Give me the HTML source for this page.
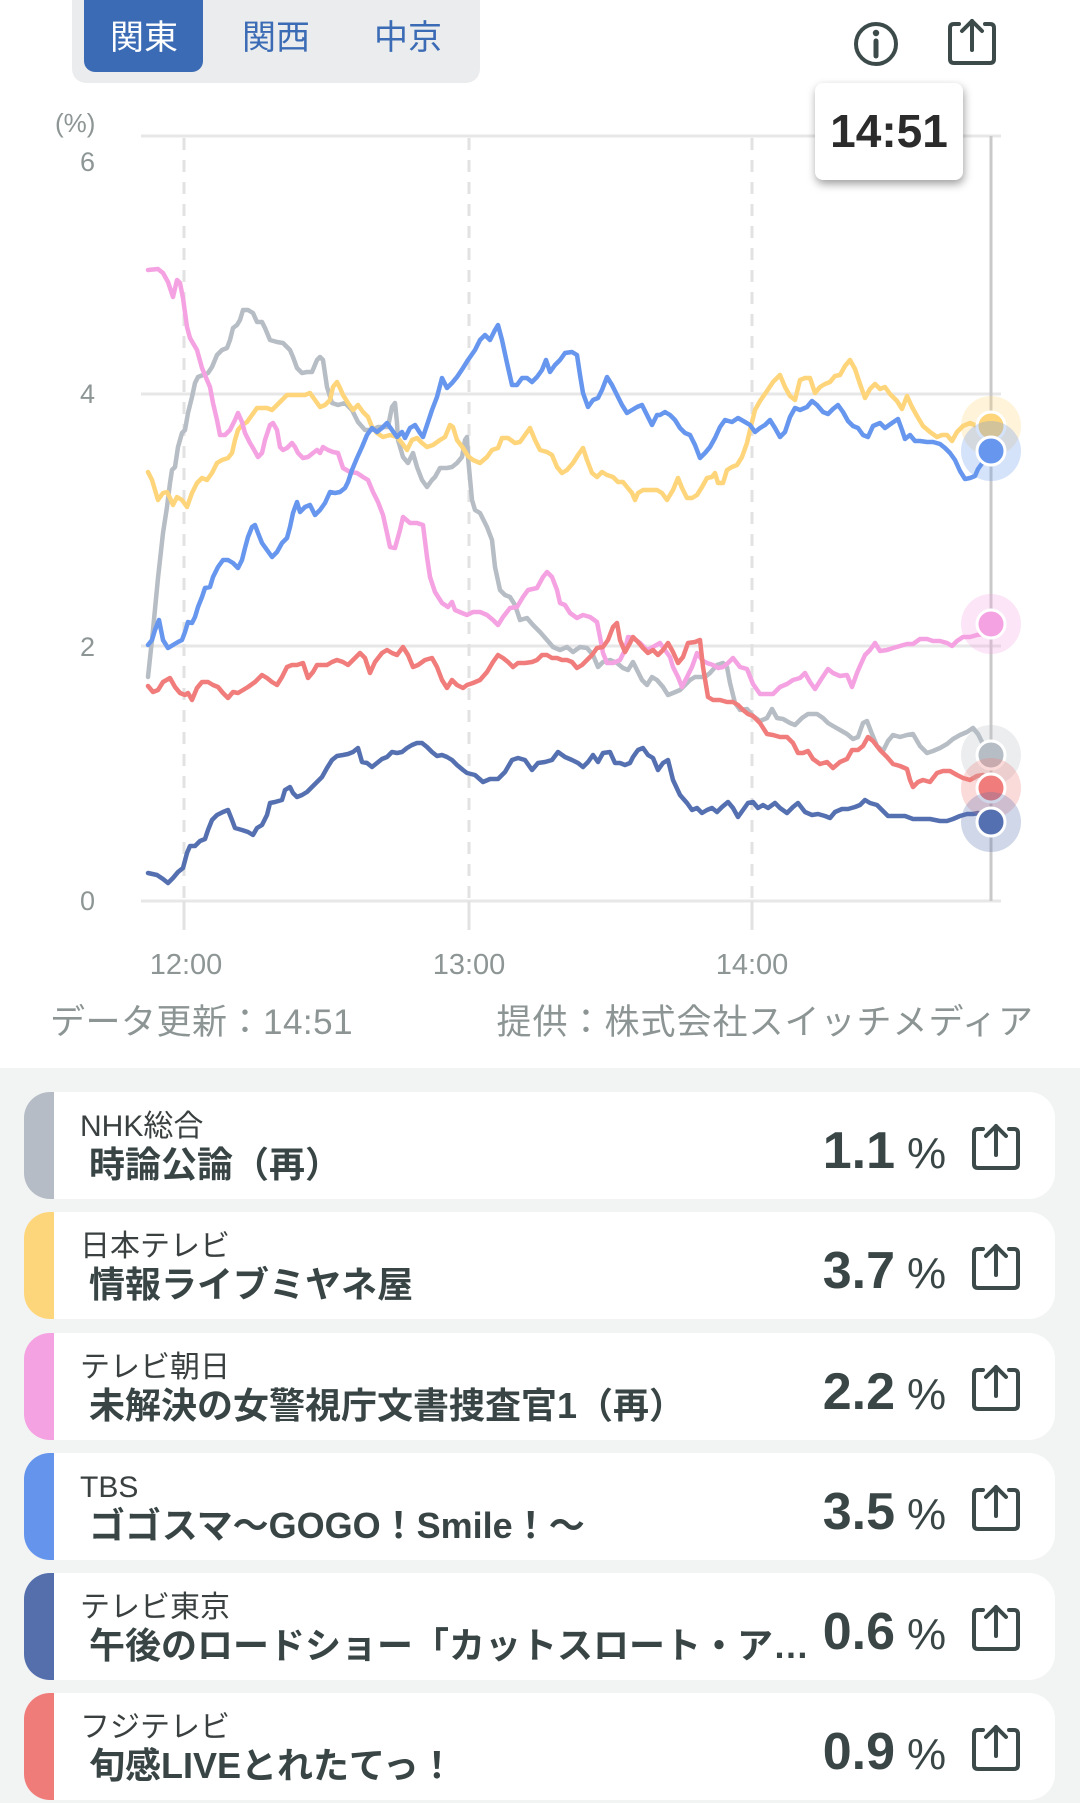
<!DOCTYPE html>
<html lang="ja">
<head>
<meta charset="utf-8">
<style>
html,body{margin:0;padding:0;background:#fff;}
body{width:1080px;height:1803px;position:relative;overflow:hidden;font-family:"Liberation Sans","Noto Sans CJK JP",sans-serif;}
.abs{position:absolute;white-space:nowrap;}
.seg{position:absolute;left:72px;top:-20px;width:408px;height:103px;background:#eaeced;border-radius:14px;}
.segon{position:absolute;left:84px;top:-20px;width:119px;height:92px;background:#3b6bb5;border-radius:11px;}
.segt{position:absolute;top:21px;font-size:34px;line-height:34px;width:120px;text-align:center;color:#3b6bb5;}
.ylab{position:absolute;right:985px;font-size:27px;line-height:27px;color:#8d9595;text-align:right;}
.xlab{position:absolute;font-size:29px;line-height:29px;color:#8d9595;width:120px;text-align:center;top:951px;}
.foot{position:absolute;top:1005px;font-size:35px;line-height:35px;color:#8c9494;white-space:nowrap;}
.list{position:absolute;left:0;top:1068px;width:1080px;height:735px;background:#f2f3f3;}
.card{position:absolute;left:24px;width:1031px;height:107px;background:#fff;border-radius:26px;overflow:hidden;}
.bar{position:absolute;left:0;top:0;width:30px;height:107px;}
.ch{position:absolute;left:56px;top:20px;font-size:30px;line-height:30px;color:#3a3f3f;white-space:nowrap;}
.ti{position:absolute;left:65px;top:55px;font-size:36px;line-height:36px;font-weight:bold;color:#394545;white-space:nowrap;}
.val{position:absolute;right:160px;top:33px;font-size:52px;line-height:52px;font-weight:bold;color:#3a4646;}
.pc{position:absolute;left:883px;top:40px;font-size:44px;line-height:44px;color:#3a4646;}
.ic{position:absolute;left:948px;top:31px;}
</style>
</head>
<body>

<!-- segmented control -->
<div class="seg"></div>
<div class="segon"></div>
<div class="segt" style="left:84px;color:#fff;">関東</div>
<div class="segt" style="left:216px;">関西</div>
<div class="segt" style="left:348px;">中京</div>

<svg width="1080" height="1068" style="position:absolute;left:0;top:0;" xmlns="http://www.w3.org/2000/svg">
  <defs>
    <g id="share" fill="none" stroke="#3c4a4a" stroke-width="4" stroke-linecap="round" stroke-linejoin="round">
      <path d="M11 6 H6 Q2 6 2 10 V41 Q2 45 6 45 H42 Q46 45 46 41 V10 Q46 6 42 6 H37"/>
      <path d="M24 3 V32"/>
      <path d="M14 13 L24 3 L34 13"/>
    </g>
  </defs>

  <!-- top icons -->
  <circle cx="876" cy="44" r="20" fill="none" stroke="#3c4a4a" stroke-width="4"/>
  <circle cx="876" cy="33" r="3.2" fill="#3c4a4a"/>
  <line x1="876" y1="41" x2="876" y2="56" stroke="#3c4a4a" stroke-width="5" stroke-linecap="round"/>
  <use href="#share" x="948" y="18"/>

  <!-- grid -->
  <g stroke="#e7e7e7" stroke-width="3">
    <line x1="141" y1="136" x2="1001" y2="136"/>
    <line x1="141" y1="394" x2="1001" y2="394"/>
    <line x1="141" y1="646" x2="1001" y2="646"/>
    <line x1="141" y1="901" x2="1001" y2="901"/>
  </g>
  <g stroke="#e2e2e2" stroke-width="3" stroke-dasharray="12 10">
    <line x1="184" y1="138" x2="184" y2="900"/>
    <line x1="469" y1="138" x2="469" y2="900"/>
    <line x1="752" y1="138" x2="752" y2="900"/>
  </g>
  <g stroke="#e2e2e2" stroke-width="3">
    <line x1="184" y1="901" x2="184" y2="930"/>
    <line x1="469" y1="901" x2="469" y2="930"/>
    <line x1="752" y1="901" x2="752" y2="930"/>
  </g>
  <line x1="991" y1="136" x2="991" y2="901" stroke="#c9c9c9" stroke-width="3"/>

  <g fill="none" stroke-width="4.5" stroke-linejoin="round" stroke-linecap="round">
    <!-- gray NHK -->
    <polyline stroke="#b7bdc4" points="148,677 153,630 158,578 163,533 167,507 170,483 172,470 175,467 178,447 182,433 185,430 188,413 192,397 195,383 198,377 203,375 208,373 212,367 217,355 222,350 227,348 230,340 233,328 237,325 240,320 243,310 248,310 253,313 257,322 262,322 265,328 270,340 277,342 283,343 290,350 293,357 297,368 302,373 307,372 312,372 317,360 320,357 323,360 327,387 332,403 338,405 345,403 352,410 358,422 365,430 372,430 378,427 383,427 388,427 392,407 395,403 397,423 398,440 403,457 408,463 413,453 417,467 422,480 427,487 432,480 435,477 440,468 447,468 452,467 457,463 462,457 465,440 467,437 468,457 472,500 475,510 480,513 487,527 492,540 495,567 500,590 505,595 510,597 515,605 520,620 527,618 533,625 540,632 547,640 553,647 560,650 567,647 573,652 580,647 587,648 593,655 598,667 603,662 610,660 617,663 623,668 628,670 633,662 637,670 642,680 647,685 652,677 657,680 663,687 668,695 673,693 680,690 685,685 690,680 695,677 700,677 705,677 710,673 717,665 723,663 727,667 730,683 735,703 740,710 747,709 753,716 760,721 767,718 772,709 777,718 783,719 790,723 795,725 802,718 808,714 817,714 823,718 828,723 833,726 840,730 847,734 853,739 858,737 863,723 867,721 872,734 877,746 883,751 888,741 893,735 900,737 907,735 913,734 920,746 927,753 933,751 940,748 947,744 953,739 960,735 967,732 973,728 978,734 983,744 987,753 991,755"/>
    <!-- yellow NTV -->
    <polyline stroke="#fed57a" points="148,472 152,480 155,490 158,500 163,493 167,492 170,498 173,505 177,497 182,500 187,507 192,493 197,483 202,478 207,480 212,473 217,463 222,460 228,458 232,453 235,440 238,430 242,425 247,422 252,415 257,408 262,408 267,408 272,410 277,405 282,400 287,395 293,395 298,395 305,395 310,393 315,400 320,407 325,405 330,400 333,387 337,382 340,388 343,395 348,403 353,410 358,405 363,412 368,417 372,427 377,433 383,437 390,435 397,437 402,443 407,450 412,440 417,438 422,443 427,447 433,445 440,440 445,437 450,425 453,427 457,440 463,448 468,456 473,460 480,463 487,457 492,450 498,448 502,438 508,438 515,443 520,442 525,435 530,428 535,440 540,450 547,452 552,455 557,467 562,473 567,470 573,463 578,455 583,448 587,460 592,473 597,477 602,472 607,475 613,477 618,482 623,482 627,487 632,493 635,500 638,493 643,490 650,490 657,490 662,493 667,500 673,490 678,478 682,488 687,498 692,498 697,495 702,487 707,478 712,477 715,473 718,483 723,483 727,470 732,467 737,465 742,457 747,443 750,430 755,410 760,401 767,391 773,382 780,375 785,387 790,396 795,400 800,380 805,378 810,378 815,393 820,387 825,384 830,382 835,376 840,375 845,366 850,360 855,369 860,384 865,398 870,389 875,384 880,389 885,387 890,394 897,401 902,409 907,396 912,407 917,416 923,426 930,432 937,437 942,435 947,435 952,441 957,432 963,426 970,423 977,426 983,425 991,426"/>
    <!-- pink Asahi -->
    <polyline stroke="#f5a2e2" points="148,270 158,269 163,273 168,282 173,297 177,280 180,283 183,298 187,327 190,338 197,350 202,368 207,380 210,387 213,403 217,420 220,435 225,435 230,430 235,420 238,413 242,422 245,433 250,443 253,448 258,457 262,453 265,440 270,425 273,423 277,430 280,447 283,450 287,448 292,443 295,447 298,453 303,458 308,457 313,453 317,450 320,453 323,447 328,450 333,452 338,453 343,468 350,472 357,473 363,477 368,480 373,492 378,502 383,515 387,533 390,547 395,548 400,530 403,517 410,523 417,523 423,525 427,557 430,577 435,592 442,603 448,607 452,602 455,610 462,613 467,615 473,612 480,612 487,615 493,620 498,625 503,617 510,608 517,607 523,597 528,590 537,588 543,577 547,572 552,577 557,590 560,603 565,605 570,613 577,618 583,615 590,617 597,622 600,637 603,653 607,663 613,663 620,660 625,650 628,637 633,638 640,643 647,650 653,647 660,643 665,650 670,657 673,667 678,677 682,687 687,677 692,667 697,653 702,660 707,663 713,665 718,668 723,667 728,663 733,658 740,667 747,669 753,684 760,694 767,694 773,694 780,687 787,684 793,680 800,678 805,673 810,682 815,689 822,678 828,669 833,673 840,676 847,675 852,687 857,673 860,666 865,655 870,650 875,643 880,651 887,650 893,648 900,646 907,644 913,644 920,639 927,639 933,641 940,641 947,643 952,646 957,641 963,637 970,637 977,635 982,634 991,624"/>
    <!-- blue TBS -->
    <polyline stroke="#6696ee" points="148,645 152,640 155,630 159,620 163,640 168,648 173,645 178,642 182,640 185,632 188,622 192,623 195,617 198,607 202,597 205,588 210,587 213,577 218,567 223,560 228,560 233,563 238,568 242,560 245,548 248,537 252,527 255,525 258,533 262,543 267,550 272,557 277,552 282,543 287,538 290,527 293,513 297,502 300,512 305,507 310,505 315,515 320,510 325,503 330,492 335,493 340,492 345,488 348,482 352,470 357,458 362,447 367,435 372,428 377,432 382,428 387,423 392,430 397,437 402,432 405,438 410,428 415,425 420,433 423,437 427,425 432,410 437,397 442,378 447,388 452,383 457,377 463,368 468,360 475,350 480,340 485,335 490,340 495,330 498,325 502,340 507,363 512,385 517,385 522,378 527,378 532,382 537,377 542,370 546,360 550,372 555,365 560,360 565,353 572,352 577,355 580,375 583,393 588,407 593,400 598,398 602,390 607,377 612,385 617,395 622,405 627,413 632,410 637,407 642,405 647,415 652,425 657,415 660,415 665,412 670,415 675,420 680,428 685,433 690,435 695,445 700,458 705,453 710,447 715,438 720,427 725,420 732,422 738,418 745,422 750,425 755,432 760,428 765,425 770,420 775,428 780,437 785,432 790,417 795,408 800,410 807,407 812,401 817,405 823,412 828,414 833,409 838,405 843,412 848,421 853,426 858,428 863,435 868,437 873,426 880,423 885,428 892,423 898,419 902,430 905,439 910,435 915,441 920,441 927,442 933,442 940,444 945,448 950,453 955,460 960,471 965,479 970,478 975,476 978,469 983,462 991,451"/>
    <!-- navy TX -->
    <polyline stroke="#5570b0" points="148,873 157,875 163,879 168,883 173,878 178,872 183,868 187,853 190,846 195,846 200,841 205,839 208,830 212,820 217,815 223,812 228,810 232,820 235,828 242,830 248,832 253,835 257,828 262,825 267,815 270,803 275,802 282,800 285,790 290,787 293,793 297,797 302,795 307,792 312,787 317,782 322,777 327,768 332,760 337,756 343,755 348,754 353,752 358,748 362,762 367,763 372,767 377,763 382,759 387,757 392,752 397,753 402,752 407,748 412,745 417,743 422,743 427,747 432,752 437,756 442,755 447,757 452,760 457,765 463,770 467,773 475,775 483,782 490,779 498,779 505,772 512,760 518,758 525,760 532,770 538,763 545,762 552,760 558,752 565,757 572,760 578,763 583,767 588,762 593,755 598,762 603,753 610,752 615,763 620,763 625,765 630,763 633,757 638,750 643,748 648,755 653,758 658,770 663,763 668,760 673,780 680,795 687,803 692,810 697,808 702,813 707,810 712,808 717,812 722,807 728,802 733,808 738,817 743,810 748,803 753,802 758,808 763,805 768,808 775,803 780,808 787,813 793,807 798,803 805,812 812,815 818,814 825,816 830,818 835,812 842,809 848,809 855,807 860,805 865,800 870,803 877,805 882,810 888,816 897,816 905,816 913,819 922,819 930,819 940,821 947,821 953,819 960,816 967,814 973,814 978,813 991,822"/>
    <!-- red Fuji -->
    <polyline stroke="#f07d7b" points="148,686 153,692 158,690 163,682 170,678 175,687 180,693 185,695 188,693 192,700 197,688 202,682 208,682 213,685 218,687 223,693 228,698 233,692 238,693 243,690 248,687 255,682 262,675 267,678 272,682 277,685 282,677 287,667 292,665 297,665 303,663 308,678 313,672 317,665 322,665 327,665 332,662 337,660 343,662 348,665 353,660 360,653 365,658 370,673 375,662 382,653 387,650 392,653 397,655 403,647 408,655 413,667 418,665 425,660 432,658 437,667 442,680 447,688 452,680 457,685 463,688 467,685 473,683 480,680 487,672 493,662 498,655 503,658 508,662 513,667 518,663 525,663 532,662 537,660 542,655 547,655 552,658 557,658 562,660 567,660 572,662 577,668 582,665 587,660 592,655 597,648 603,647 608,640 613,627 617,623 620,640 625,652 630,643 633,637 638,642 643,648 648,653 653,650 658,655 663,650 668,643 673,652 678,663 683,657 688,643 695,642 700,640 703,667 708,697 713,700 720,700 727,702 733,702 738,705 743,710 748,714 753,716 760,723 767,734 773,735 780,737 787,737 793,743 798,753 803,753 808,751 813,759 820,764 827,762 833,768 840,762 847,759 852,750 858,750 863,746 868,737 873,741 880,750 887,757 893,764 900,766 907,769 910,780 913,787 918,782 923,780 930,782 937,773 943,771 950,771 957,775 963,778 970,780 977,776 983,775 991,788"/>
  </g>

  <!-- end dots -->
  <g stroke="#fff" stroke-width="3">
    <circle cx="991" cy="755" r="30" fill="#b7bdc4" fill-opacity="0.28" stroke="none"/>
    <circle cx="991" cy="755" r="14" fill="#b7bdc4"/>
    <circle cx="991" cy="426" r="30" fill="#fed57a" fill-opacity="0.28" stroke="none"/>
    <circle cx="991" cy="426" r="14" fill="#fed57a"/>
    <circle cx="991" cy="624" r="30" fill="#f5a2e2" fill-opacity="0.28" stroke="none"/>
    <circle cx="991" cy="624" r="14" fill="#f5a2e2"/>
    <circle cx="991" cy="451" r="30" fill="#6696ee" fill-opacity="0.28" stroke="none"/>
    <circle cx="991" cy="451" r="14" fill="#6696ee"/>
    <circle cx="991" cy="788" r="30" fill="#f07d7b" fill-opacity="0.28" stroke="none"/>
    <circle cx="991" cy="788" r="14" fill="#f07d7b"/>
    <circle cx="991" cy="822" r="30" fill="#5570b0" fill-opacity="0.28" stroke="none"/>
    <circle cx="991" cy="822" r="14" fill="#5570b0"/>
  </g>
</svg>

<!-- tooltip -->
<div class="abs" style="left:815px;top:83px;width:148px;height:97px;background:#fff;border-radius:8px;box-shadow:1px 4px 9px rgba(0,0,0,0.38);"></div>
<div class="abs" style="left:815px;top:108px;width:148px;text-align:center;font-size:46px;line-height:46px;font-weight:bold;color:#2b2b2b;">14:51</div>

<!-- axis labels -->
<div class="abs" style="left:55px;top:110px;font-size:26px;line-height:26px;color:#8d9595;">(%)</div>
<div class="ylab" style="top:149px;">6</div>
<div class="ylab" style="top:381px;">4</div>
<div class="ylab" style="top:634px;">2</div>
<div class="ylab" style="top:888px;">0</div>
<div class="xlab" style="left:126px;">12:00</div>
<div class="xlab" style="left:409px;">13:00</div>
<div class="xlab" style="left:692px;">14:00</div>

<div class="foot" style="left:50px;letter-spacing:0.5px;">データ更新：14:51</div>
<div class="foot" style="right:46px;letter-spacing:1px;">提供：株式会社スイッチメディア</div>

<!-- list -->
<div class="list"></div>

<div class="card" style="top:1092px;">
  <div class="bar" style="background:#b5bcc5;"></div>
  <div class="ch">NHK総合</div>
  <div class="ti">時論公論（再）</div>
  <div class="val">1.1</div><div class="pc">%</div>
  <svg class="ic" width="48" height="48"><use href="#share"/></svg>
</div>

<div class="card" style="top:1212px;">
  <div class="bar" style="background:#fdd67b;"></div>
  <div class="ch">日本テレビ</div>
  <div class="ti">情報ライブミヤネ屋</div>
  <div class="val">3.7</div><div class="pc">%</div>
  <svg class="ic" width="48" height="48"><use href="#share"/></svg>
</div>

<div class="card" style="top:1333px;">
  <div class="bar" style="background:#f4a2e1;"></div>
  <div class="ch">テレビ朝日</div>
  <div class="ti">未解決の女警視庁文書捜査官1（再）</div>
  <div class="val">2.2</div><div class="pc">%</div>
  <svg class="ic" width="48" height="48"><use href="#share"/></svg>
</div>

<div class="card" style="top:1453px;">
  <div class="bar" style="background:#6594ec;"></div>
  <div class="ch">TBS</div>
  <div class="ti">ゴゴスマ〜GOGO！Smile！〜</div>
  <div class="val">3.5</div><div class="pc">%</div>
  <svg class="ic" width="48" height="48"><use href="#share"/></svg>
</div>

<div class="card" style="top:1573px;">
  <div class="bar" style="background:#556fad;"></div>
  <div class="ch">テレビ東京</div>
  <div class="ti">午後のロードショー「カットスロート・ア…</div>
  <div class="val">0.6</div><div class="pc">%</div>
  <svg class="ic" width="48" height="48"><use href="#share"/></svg>
</div>

<div class="card" style="top:1693px;">
  <div class="bar" style="background:#f07c7a;"></div>
  <div class="ch">フジテレビ</div>
  <div class="ti">旬感LIVEとれたてっ！</div>
  <div class="val">0.9</div><div class="pc">%</div>
  <svg class="ic" width="48" height="48"><use href="#share"/></svg>
</div>

</body>
</html>
